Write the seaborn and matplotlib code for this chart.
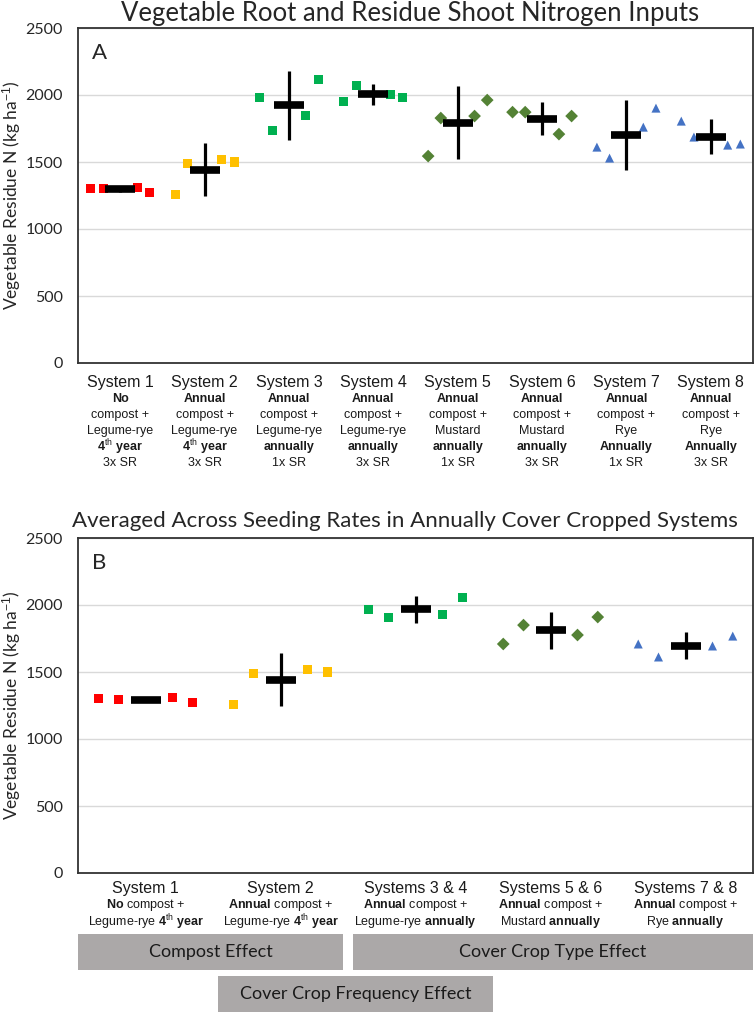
import numpy as np
import pandas as pd
import matplotlib
matplotlib.use("Agg")
import matplotlib.pyplot as plt
import seaborn as sns
from matplotlib.patches import Rectangle

# ---- panel A: vegetable residue N per system (4 replicates each) ----
systems_a = ["System 1", "System 2", "System 3", "System 4",
             "System 5", "System 6", "System 7", "System 8"]
sys1_a = [1300, 1300, 1310, 1270]
sys2_a = [1260, 1492, 1522, 1500]
sys3_a = [1985, 1738, 1850, 2119]
sys4_a = [1955, 2074, 2007, 1985]
sys5_a = [1544, 1828, 1843, 1962]
sys6_a = [1872, 1872, 1708, 1843]
sys7_a = [1611, 1529, 1760, 1902]
sys8_a = [1805, 1686, 1626, 1634]
err_a = [20, 200, 257, 80, 275, 125, 260, 130]

compost_a = ["No", "Annual", "Annual", "Annual", "Annual", "Annual", "Annual", "Annual"]
crop_a = ["Legume-rye", "Legume-rye", "Legume-rye", "Legume-rye",
          "Mustard", "Mustard", "Rye", "Rye"]
freq_a = ["4$^{\\mathrm{th}}$ year", "4$^{\\mathrm{th}}$ year", "annually", "annually",
          "annually", "annually", "Annually", "Annually"]
rate_a = ["3x SR", "3x SR", "1x SR", "3x SR", "1x SR", "3x SR", "1x SR", "3x SR"]

# ---- panel B: averaged across seeding rates ----
systems_b = ["System 1", "System 2", "Systems 3 & 4", "Systems 5 & 6", "Systems 7 & 8"]
sys1_b = [1300, 1295, 1310, 1270]
sys2_b = [1260, 1492, 1522, 1500]
sys34_b = [1970, 1910, 1932, 2059]
sys56_b = [1709, 1850, 1776, 1910]
sys78_b = [1709, 1612, 1694, 1768]
err_b = [20, 200, 100, 138, 100]

line2_b = ["$\\mathbf{No}$ compost +", "$\\mathbf{Annual}$ compost +",
           "$\\mathbf{Annual}$ compost +", "$\\mathbf{Annual}$ compost +",
           "$\\mathbf{Annual}$ compost +"]
line3_b = ["Legume-rye $\\mathbf{4}^{\\mathrm{th}}\\mathbf{\\ year}$",
           "Legume-rye $\\mathbf{4}^{\\mathrm{th}}\\mathbf{\\ year}$",
           "Legume-rye $\\mathbf{annually}$", "Mustard $\\mathbf{annually}$",
           "Rye $\\mathbf{annually}$"]

effects = ["Compost Effect", "Cover Crop Type Effect", "Cover Crop Frequency Effect"]

RED, YEL, GRN, OLV, BLU = "#FF0000", "#FFC000", "#00B050", "#548235", "#4472C4"
colors_a = [RED, YEL, GRN, GRN, OLV, OLV, BLU, BLU]
markers_a = ["s", "s", "s", "s", "D", "D", "^", "^"]
colors_b = [RED, YEL, GRN, OLV, BLU]
markers_b = ["s", "s", "s", "D", "^"]
rep_offsets = [-0.35, -0.2, 0.2, 0.35]

sns.set_style("white")
plt.rcParams["font.family"] = ["Lato", "DejaVu Sans"]
plt.rcParams["mathtext.fontset"] = "custom"
plt.rcParams["mathtext.rm"] = "Liberation Sans"
plt.rcParams["mathtext.bf"] = "Liberation Sans:bold"
plt.rcParams["mathtext.it"] = "Liberation Sans:italic"


def long_df(systems, groups):
    rows = []
    for i, (name, vals) in enumerate(zip(systems, groups)):
        for r, v in enumerate(vals):
            rows.append({"system": name, "x": i + rep_offsets[r], "idx": i, "N": v})
    return pd.DataFrame(rows)


def draw_panel(ax, df, systems, colors, markers, errs):
    sns.scatterplot(data=df, x="x", y="N", hue="system", style="system",
                    palette=dict(zip(systems, colors)),
                    markers=dict(zip(systems, markers)),
                    s=42, linewidth=0, legend=False, ax=ax, zorder=2)
    means = df.groupby("idx")["N"].mean()
    ax.errorbar(means.index, means.values, yerr=errs, fmt="none",
                ecolor="black", elinewidth=2.3, capsize=0, zorder=3)
    ax.plot(means.index, means.values, ls="none", marker="_",
            markersize=22, mew=5.5, color="black", zorder=4)
    ax.set_xlim(-0.5, len(systems) - 0.5)
    ax.set_ylim(0, 2500)
    ax.set_yticks(np.arange(0, 2501, 500))
    ax.set_xticks(range(len(systems)))
    ax.set_xticklabels([])
    ax.grid(axis="y", color="#D9D9D9", lw=1)
    ax.set_axisbelow(True)
    ax.tick_params(axis="x", direction="in", length=4, width=1, color="black")
    ax.tick_params(axis="y", length=0, labelsize=11.5, pad=11, labelcolor="#262626")
    for sp in ax.spines.values():
        sp.set_color("#333333")
        sp.set_linewidth(1.3)
    ax.set_xlabel("")
    ax.set_ylabel("Vegetable Residue N (kg ha$^{-1}$)", fontsize=12.5, color="#262626")
    ax.yaxis.set_label_coords(-0.082, 0.5)


W, H = 755, 1016
fig = plt.figure(figsize=(W / 100, H / 100), dpi=100)
ax_a = fig.add_axes([78 / W, 1 - 363 / H, 675 / W, 335 / H])
ax_b = fig.add_axes([78 / W, 1 - 873 / H, 675 / W, 335 / H])

df_a = long_df(systems_a, [sys1_a, sys2_a, sys3_a, sys4_a, sys5_a, sys6_a, sys7_a, sys8_a])
df_b = long_df(systems_b, [sys1_b, sys2_b, sys34_b, sys56_b, sys78_b])
draw_panel(ax_a, df_a, systems_a, colors_a, markers_a, err_a)
draw_panel(ax_b, df_b, systems_b, colors_b, markers_b, err_b)

fig.text(410 / W, 1 - 13 / H, "Vegetable Root and Residue Shoot Nitrogen Inputs",
         ha="center", va="center", fontsize=18.5)
fig.text(405 / W, 1 - 521 / H, "Averaged Across Seeding Rates in Annually Cover Cropped Systems",
         ha="center", va="center", fontsize=16)
ax_a.text(0.02, 0.925, "A", transform=ax_a.transAxes, fontsize=16, va="center")
ax_b.text(0.02, 0.925, "B", transform=ax_b.transAxes, fontsize=16, va="center")

# category labels under panel A
lab = dict(family="Liberation Sans", ha="center", va="center", color="#1a1a1a",
           xycoords=("data", "axes fraction"), textcoords="offset points")
for i in range(len(systems_a)):
    ax_a.annotate(systems_a[i], (i, 0), xytext=(0, -19 * 0.72), fontsize=11.5, **lab)
    ax_a.annotate(compost_a[i], (i, 0), xytext=(0, -36 * 0.72), fontsize=9, weight="bold", **lab)
    ax_a.annotate("compost +", (i, 0), xytext=(0, -52 * 0.72), fontsize=9, **lab)
    ax_a.annotate(crop_a[i], (i, 0), xytext=(0, -68 * 0.72), fontsize=9, **lab)
    ax_a.annotate(freq_a[i], (i, 0), xytext=(0, -84 * 0.72), fontsize=9, weight="bold", **lab)
    ax_a.annotate(rate_a[i], (i, 0), xytext=(0, -100 * 0.72), fontsize=9, **lab)

# category labels under panel B
for i in range(len(systems_b)):
    ax_b.annotate(systems_b[i], (i, 0), xytext=(0, -16 * 0.72), fontsize=11.5, **lab)
    ax_b.annotate(line2_b[i], (i, 0), xytext=(0, -32 * 0.72), fontsize=9, **lab)
    ax_b.annotate(line3_b[i], (i, 0), xytext=(0, -49 * 0.72), fontsize=9, **lab)

# effect boxes
boxes = [(78, 934, 265, 36), (353, 934, 400, 36), (218, 976, 275, 36)]
for name, (x0, y0, w, h) in zip(effects, boxes):
    fig.add_artist(Rectangle((x0 / W, 1 - (y0 + h) / H), w / W, h / H,
                             transform=fig.transFigure, facecolor="#ABA8A8",
                             edgecolor="none"))
    fig.text((x0 + w / 2) / W, 1 - (y0 + h / 2) / H, name, ha="center", va="center",
             fontsize=13, color="#1a1a1a")

fig.savefig("out.png", dpi=100)
